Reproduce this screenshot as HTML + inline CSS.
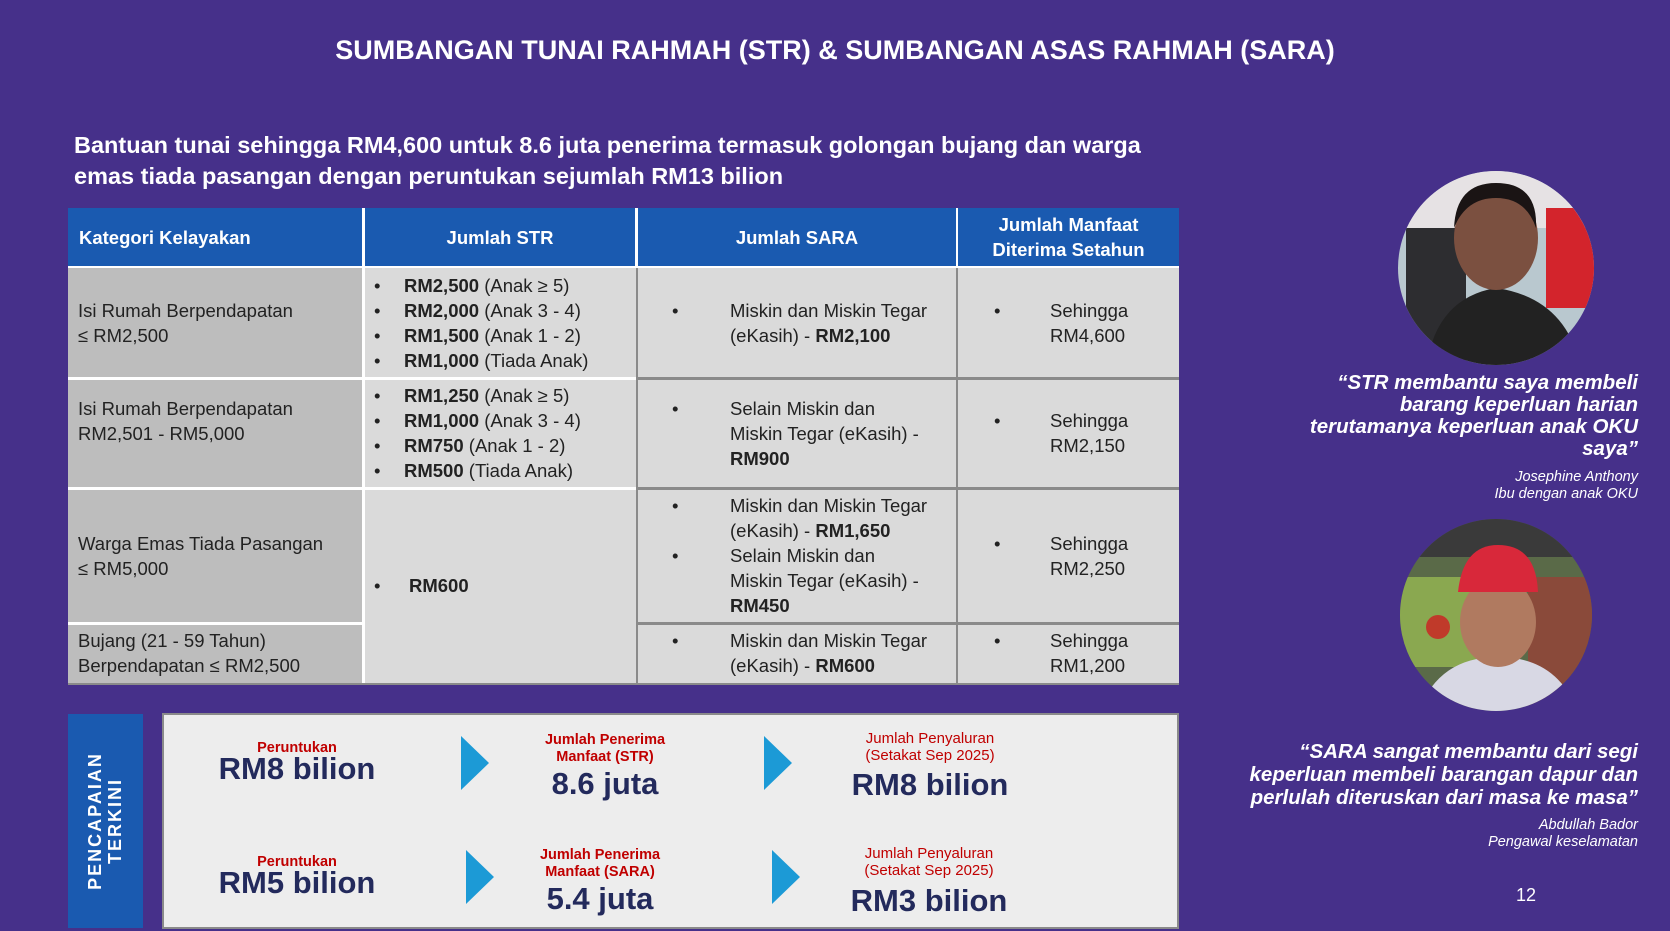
<!DOCTYPE html>
<html><head><meta charset="utf-8"><style>
*{margin:0;padding:0;box-sizing:border-box}
body{width:1670px;height:931px;background:#46308a;position:relative;overflow:hidden;font-family:"Liberation Sans",sans-serif;color:#fff}
.a{position:absolute}
.t{font-size:18.5px;line-height:25px;color:#222;position:absolute}
.hd{position:absolute;top:208px;height:58px;background:#1a5ab0;color:#fff;font-weight:bold;font-size:18.5px;display:flex;align-items:center;justify-content:center;text-align:center;line-height:25px}
.c{position:absolute;background:#dadada}
.g{background:#bdbdbd}
.b{display:inline-block;width:30px}
.q{position:absolute;right:32px;text-align:right;font-style:italic;font-weight:bold;font-size:20.5px;line-height:22px;color:#fff}
.au{position:absolute;right:32px;text-align:right;font-style:italic;font-size:14.5px;line-height:16.5px}
.red{color:#c00000;font-weight:bold;font-size:14.5px;line-height:17px;text-align:center}
.redl{color:#c00000;font-size:15px;line-height:17px;text-align:center}
.big{color:#232a5c;font-weight:bold;font-size:31px;line-height:34px;text-align:center}
.tri{position:absolute;width:0;height:0;border-top:27px solid transparent;border-bottom:27px solid transparent;border-left:28px solid #1c9ad6}
</style></head><body>
<div class="a" style="top:35px;left:0;width:1670px;text-align:center;font-weight:bold;font-size:27px">SUMBANGAN TUNAI RAHMAH (STR) &amp; SUMBANGAN ASAS RAHMAH (SARA)</div>
<div class="a" style="top:130px;left:74px;width:1110px;font-weight:bold;font-size:23.5px;line-height:31px">Bantuan tunai sehingga RM4,600 untuk 8.6 juta penerima termasuk golongan bujang dan warga emas tiada pasangan dengan peruntukan sejumlah RM13 bilion</div>

<div class="a" style="left:68px;top:208px;width:1111px;height:475px;background:#fff"></div>
<div class="hd" style="left:68px;width:294px;justify-content:flex-start;padding-left:11px">Kategori Kelayakan</div>
<div class="hd" style="left:365px;width:270px">Jumlah STR</div>
<div class="hd" style="left:638px;width:318px">Jumlah SARA</div>
<div class="hd" style="left:958px;width:221px">Jumlah Manfaat<br>Diterima Setahun</div>

<div class="c g" style="left:68px;top:268px;width:294px;height:109px"></div>
<div class="c g" style="left:68px;top:380px;width:294px;height:107px"></div>
<div class="c g" style="left:68px;top:490px;width:294px;height:132px"></div>
<div class="c g" style="left:68px;top:625px;width:294px;height:58px"></div>
<div class="c" style="left:365px;top:268px;width:271px;height:109px"></div>
<div class="c" style="left:365px;top:380px;width:271px;height:107px"></div>
<div class="c" style="left:365px;top:490px;width:271px;height:193px"></div>
<div class="c" style="left:638px;top:268px;width:318px;height:109px"></div>
<div class="c" style="left:638px;top:380px;width:318px;height:107px"></div>
<div class="c" style="left:638px;top:490px;width:318px;height:132px"></div>
<div class="c" style="left:638px;top:625px;width:318px;height:58px"></div>
<div class="c" style="left:958px;top:268px;width:221px;height:109px"></div>
<div class="c" style="left:958px;top:380px;width:221px;height:107px"></div>
<div class="c" style="left:958px;top:490px;width:221px;height:132px"></div>
<div class="c" style="left:958px;top:625px;width:221px;height:58px"></div>
<div class="a" style="left:636px;top:377px;width:543px;height:3px;background:#8a8a8a"></div>
<div class="a" style="left:636px;top:487px;width:543px;height:3px;background:#8a8a8a"></div>
<div class="a" style="left:636px;top:622px;width:543px;height:3px;background:#8a8a8a"></div>
<div class="a" style="left:68px;top:683px;width:1111px;height:2px;background:#8a8a8a"></div>
<div class="a" style="left:636px;top:268px;width:2px;height:415px;background:#8a8a8a"></div>
<div class="a" style="left:956px;top:268px;width:2px;height:415px;background:#8a8a8a"></div>

<div class="t" style="left:78px;top:298px">Isi Rumah Berpendapatan<br>≤ RM2,500</div>
<div class="t" style="left:78px;top:396px">Isi Rumah Berpendapatan<br>RM2,501 - RM5,000</div>
<div class="t" style="left:78px;top:531px">Warga Emas Tiada Pasangan<br>≤ RM5,000</div>
<div class="t" style="left:78px;top:628px">Bujang (21 - 59 Tahun)<br>Berpendapatan ≤ RM2,500</div>

<div class="t" style="left:374px;top:273px"><span class="b">•</span><b>RM2,500</b> (Anak ≥ 5)<br><span class="b">•</span><b>RM2,000</b> (Anak 3 - 4)<br><span class="b">•</span><b>RM1,500</b> (Anak 1 - 2)<br><span class="b">•</span><b>RM1,000</b> (Tiada Anak)</div>
<div class="t" style="left:374px;top:383px"><span class="b">•</span><b>RM1,250</b> (Anak ≥ 5)<br><span class="b">•</span><b>RM1,000</b> (Anak 3 - 4)<br><span class="b">•</span><b>RM750</b> (Anak 1 - 2)<br><span class="b">•</span><b>RM500</b> (Tiada Anak)</div>
<div class="t" style="left:374px;top:573px"><span class="b" style="width:35px">•</span><b>RM600</b></div>

<div class="t" style="left:672px;top:298px">•</div><div class="t" style="left:730px;top:298px">Miskin dan Miskin Tegar<br>(eKasih) - <b>RM2,100</b></div>
<div class="t" style="left:672px;top:396px">•</div><div class="t" style="left:730px;top:396px">Selain Miskin dan<br>Miskin Tegar (eKasih) -<br><b>RM900</b></div>
<div class="t" style="left:672px;top:493px">•<br><br>•</div><div class="t" style="left:730px;top:493px">Miskin dan Miskin Tegar<br>(eKasih) - <b>RM1,650</b><br>Selain Miskin dan<br>Miskin Tegar (eKasih) -<br><b>RM450</b></div>
<div class="t" style="left:672px;top:628px">•</div><div class="t" style="left:730px;top:628px">Miskin dan Miskin Tegar<br>(eKasih) - <b>RM600</b></div>

<div class="t" style="left:994px;top:298px">•</div><div class="t" style="left:1050px;top:298px">Sehingga<br>RM4,600</div>
<div class="t" style="left:994px;top:408px">•</div><div class="t" style="left:1050px;top:408px">Sehingga<br>RM2,150</div>
<div class="t" style="left:994px;top:531px">•</div><div class="t" style="left:1050px;top:531px">Sehingga<br>RM2,250</div>
<div class="t" style="left:994px;top:628px">•</div><div class="t" style="left:1050px;top:628px">Sehingga<br>RM1,200</div>

<div class="a" style="left:68px;top:714px;width:75px;height:214px;background:#1a5ab0"></div>
<div class="a" style="left:105px;top:821px;width:0;height:0"><div style="position:absolute;transform:translate(-50%,-50%) rotate(-90deg);white-space:nowrap;font-weight:bold;font-size:18px;line-height:20px;text-align:center;letter-spacing:2px">PENCAPAIAN<br>TERKINI</div></div>
<div class="a" style="left:162px;top:713px;width:1017px;height:216px;background:#ededed;border:2px solid #8a8a8a"></div>

<div class="a red" style="left:197px;top:740px;width:200px">Peruntukan</div>
<div class="a big" style="left:197px;top:752px;width:200px">RM8 bilion</div>
<div class="a red" style="left:197px;top:854px;width:200px">Peruntukan</div>
<div class="a big" style="left:197px;top:866px;width:200px">RM5 bilion</div>
<div class="tri" style="left:461px;top:736px"></div>
<div class="tri" style="left:466px;top:850px"></div>
<div class="tri" style="left:764px;top:736px"></div>
<div class="tri" style="left:772px;top:850px"></div>
<div class="a red" style="left:505px;top:732px;width:200px">Jumlah Penerima<br>Manfaat (STR)</div>
<div class="a big" style="left:505px;top:767px;width:200px">8.6 juta</div>
<div class="a red" style="left:500px;top:847px;width:200px">Jumlah Penerima<br>Manfaat (SARA)</div>
<div class="a big" style="left:500px;top:882px;width:200px">5.4 juta</div>
<div class="a redl" style="left:830px;top:730px;width:200px">Jumlah Penyaluran<br>(Setakat Sep 2025)</div>
<div class="a big" style="left:830px;top:768px;width:200px">RM8 bilion</div>
<div class="a redl" style="left:829px;top:845px;width:200px">Jumlah Penyaluran<br>(Setakat Sep 2025)</div>
<div class="a big" style="left:829px;top:884px;width:200px">RM3 bilion</div>

<svg class="a" style="left:1396px;top:168px" width="200" height="200"><defs><clipPath id="c1"><ellipse cx="100" cy="100" rx="98" ry="97"/></clipPath></defs><g clip-path="url(#c1)"><rect width="200" height="200" fill="#b9c8cf"/><rect x="0" y="0" width="200" height="60" fill="#e6e2e4"/><rect x="150" y="40" width="50" height="100" fill="#d3242c"/><rect x="10" y="60" width="60" height="140" fill="#2d2d30"/><path d="M30 200 Q40 130 100 120 Q170 130 185 200Z" fill="#222"/><ellipse cx="100" cy="70" rx="42" ry="52" fill="#7b5040"/><path d="M58 60 Q60 15 100 15 Q142 15 140 60 Q130 30 100 30 Q70 30 58 60Z" fill="#1a1414"/></g></svg>
<svg class="a" style="left:1398px;top:517px" width="196" height="196"><defs><clipPath id="c2"><ellipse cx="98" cy="98" rx="96" ry="96"/></clipPath></defs><g clip-path="url(#c2)"><rect width="196" height="196" fill="#5a6a48"/><rect y="0" width="196" height="40" fill="#3a3a3a"/><rect x="0" y="60" width="80" height="90" fill="#8aa850"/><circle cx="40" cy="110" r="12" fill="#c03a2a"/><rect x="130" y="60" width="66" height="136" fill="#8a4a3a"/><path d="M20 196 Q40 140 100 140 Q160 140 180 196Z" fill="#d8d8e4"/><ellipse cx="100" cy="105" rx="38" ry="45" fill="#b07a60"/><path d="M60 75 Q65 28 100 28 Q138 28 140 75Z" fill="#d8283a"/></g></svg>

<div class="q" style="top:372px">“STR membantu saya membeli<br>barang keperluan harian<br>terutamanya keperluan anak OKU<br>saya”</div>
<div class="au" style="top:469px">Josephine Anthony<br>Ibu dengan anak OKU</div>
<div class="q" style="top:740px;line-height:23px">“SARA sangat membantu dari segi<br>keperluan membeli barangan dapur dan<br>perlulah diteruskan dari masa ke masa”</div>
<div class="au" style="top:817px">Abdullah Bador<br>Pengawal keselamatan</div>
<div class="a" style="left:1516px;top:885px;font-size:18px">12</div>
</body></html>
